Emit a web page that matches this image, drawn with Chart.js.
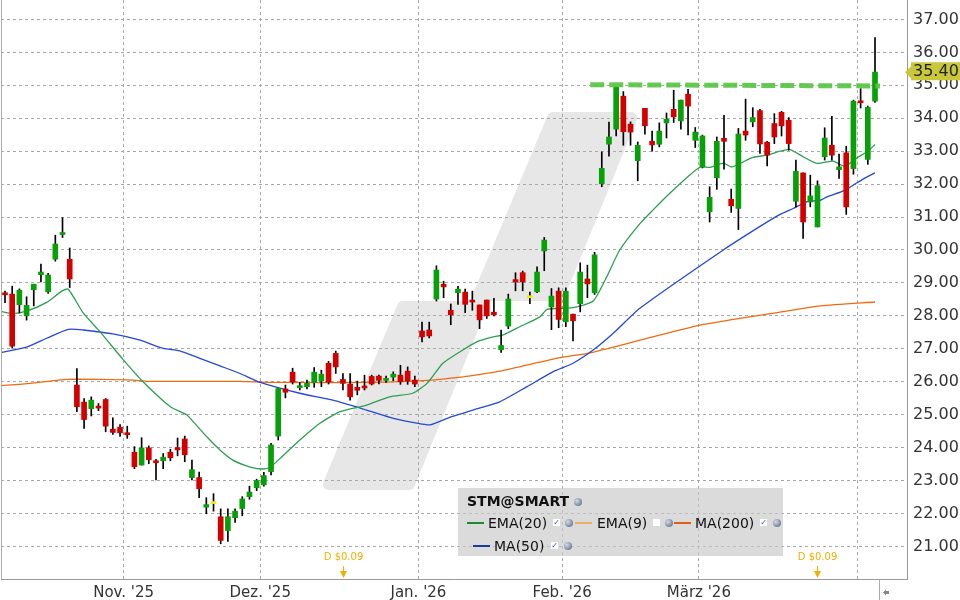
<!DOCTYPE html>
<html>
<head>
<meta charset="utf-8">
<script src="https://cdn.jsdelivr.net/npm/chart.js@4.4.1/dist/chart.umd.min.js"></script>
<style>
body { margin: 0; background: #fff; }
#wrap { position: relative; width: 960px; height: 600px; font-family: "DejaVu Sans", sans-serif; }
#legendBox { position: absolute; left: 458px; top: 488px; width: 325px; height: 68px; background: rgba(200,200,200,0.65); color: #111; font-size: 14px; }
#legendBox span { position: absolute; }
.title { font-weight: bold; left: 9px; top: 5px; line-height: 17px; }
.txt { line-height: 18px; }
.ln { height: 2px; width: 17px; }
.chk { width: 7px; height: 7px; background: #fff; color: #2a5bd0; font-size: 8px; line-height: 7px; text-align: center; font-weight: bold; }
.box { width: 7px; height: 7px; background: #fff; }
.glb { width: 8px; height: 8px; border-radius: 50%; background: radial-gradient(circle at 35% 35%, #d0dce8, #4d6178); }
</style>
</head>
<body>
<div id="wrap">
<canvas id="stmChart" width="960" height="600"></canvas>
<div id="legendBox">
  <span class="title">STM@SMART</span><span class="glb" style="left:116px;top:10px"></span>
  <span class="ln" style="left:9px;top:34px;background:#1a8a2a"></span>
  <span class="txt" style="left:30px;top:26px">EMA(20)</span>
  <span class="chk" style="left:95px;top:31px">✓</span><span class="glb" style="left:107px;top:31px"></span>
  <span class="ln" style="left:117px;top:34px;background:#e8b060"></span>
  <span class="txt" style="left:139px;top:26px">EMA(9)</span>
  <span class="box" style="left:195px;top:31px"></span><span class="glb" style="left:207px;top:31px"></span>
  <span class="ln" style="left:216px;top:34px;background:#e06010"></span>
  <span class="txt" style="left:237px;top:26px">MA(200)</span>
  <span class="chk" style="left:302px;top:31px">✓</span><span class="glb" style="left:315px;top:31px"></span>
  <span class="ln" style="left:15px;top:57px;background:#1a3aa0"></span>
  <span class="txt" style="left:36px;top:49px">MA(50)</span>
  <span class="chk" style="left:93px;top:54px">✓</span><span class="glb" style="left:106px;top:54px"></span>
</div>
</div>
<script>
// daily candles, index 0 = first visible trading day
var opens = [28.68,28.66,28.34,28.0,28.79,29.25,28.73,29.72,30.47,29.72,
25.9,25.38,25.18,25.26,25.46,24.56,24.62,24.45,23.86,23.47,
23.99,23.59,23.6,23.86,24.0,24.26,23.09,23.09,22.19,22.3,
21.9,21.48,21.87,22.15,22.51,22.78,22.87,23.27,24.35,25.78,
26.29,25.82,25.85,25.97,26.02,26.56,26.86,26.07,25.93,25.83,
25.87,26.16,26.17,26.04,26.14,26.2,26.32,26.05,27.54,27.57,
28.51,28.96,28.17,28.7,28.72,28.48,28.33,28.48,28.11,26.97,
27.69,29.1,29.31,28.55,28.73,29.97,28.27,28.75,27.82,28.05,
28.37,29.12,28.7,32.01,33.21,33.67,34.67,33.82,32.71,34.3,
33.3,33.21,33.86,34.27,33.92,34.73,33.33,32.52,31.16,32.19,
33.39,31.54,31.26,33.61,33.89,34.23,33.27,33.84,34.18,33.94,
31.48,32.34,31.46,30.70,32.83,33.18,32.44,32.95,32.47,34.52,
32.75,34.52];
var highs = [28.75,28.90,28.82,28.58,28.96,29.57,29.29,30.45,30.98,30.06,
26.40,25.49,25.54,25.34,25.49,24.9,24.7,24.65,24.03,24.3,
24.05,23.64,23.82,23.95,24.29,24.35,23.62,23.26,22.48,22.6,
22.14,22.14,22.14,22.51,22.83,23.04,23.25,24.13,25.79,25.9,
26.41,25.98,26.05,26.43,26.35,26.62,26.93,26.25,26.25,26.02,
26.2,26.2,26.2,26.17,26.3,26.5,26.45,26.17,27.81,27.81,
29.52,29.05,28.36,28.9,28.81,28.75,28.33,28.48,28.53,27.57,
28.66,29.31,29.36,28.72,29.49,30.38,28.83,28.85,28.85,28.05,
29.61,29.54,29.93,32.98,33.88,34.95,34.81,33.89,33.28,34.3,
33.61,33.86,34.16,34.85,34.55,34.88,33.72,33.49,31.92,33.43,
34.09,31.85,33.69,34.58,34.32,34.27,33.3,34.14,34.21,34.02,
32.73,32.34,32.27,32.1,33.71,34.06,32.91,33.15,34.55,34.9,
34.37,36.45];
var lows = [28.4,27.02,28.09,27.87,28.3,29.03,28.68,29.66,30.38,28.86,
25.09,24.58,24.96,25.12,24.48,24.4,24.34,24.28,23.36,23.47,
23.51,23.02,23.36,23.6,23.75,23.57,23.02,22.48,21.99,22.07,
21.08,21.15,21.73,21.93,22.43,22.69,22.83,23.17,24.23,25.51,
25.93,25.75,25.78,25.83,25.85,25.93,26.25,25.75,25.44,25.6,
25.75,25.9,25.93,25.98,26.03,25.92,25.92,25.85,27.21,27.33,
28.45,28.55,27.73,28.35,28.1,28.17,27.61,27.92,28.0,26.89,
27.61,28.76,28.76,28.37,28.7,29.37,27.58,27.64,27.67,27.24,
28.12,28.55,28.65,31.92,32.85,33.46,33.18,33.18,32.1,33.52,
33.0,33.13,33.4,33.87,33.67,33.49,33.11,32.49,30.85,31.84,
32.45,31.14,30.62,33.33,33.74,32.93,32.55,33.23,33.46,33.03,
31.31,30.35,31.31,30.70,32.73,32.73,32.17,31.08,32.3,34.31,
32.6,34.48];
var closes = [28.64,27.08,28.78,28.32,28.96,29.33,29.24,30.18,30.52,29.12,
25.24,24.85,25.44,25.2,24.65,24.46,24.45,24.39,23.42,23.99,
23.63,23.54,23.71,23.69,23.93,23.78,23.33,22.75,22.27,22.3,
21.18,21.9,22.07,22.44,22.65,23.0,23.15,24.08,25.79,25.68,
26.0,25.88,25.95,26.29,26.23,25.99,26.45,25.95,25.54,25.74,
25.81,25.93,26.04,26.1,26.23,26.0,26.02,25.93,27.36,27.39,
29.39,28.88,28.03,28.81,28.35,28.42,27.88,28.0,28.03,27.1,
28.51,29.03,29.03,28.55,29.33,30.3,28.6,27.89,28.75,27.85,
29.33,28.97,29.85,32.48,33.43,34.95,33.59,33.58,33.18,33.77,
33.19,33.61,33.97,34.04,34.55,34.37,33.58,33.46,31.6,33.3,
33.3,31.34,33.52,33.49,34.02,33.22,32.88,33.43,33.77,33.23,
32.39,30.85,31.64,31.95,33.4,32.88,32.52,31.31,34.52,34.47,
34.33,35.40];

// first candle index of each month and its label
var monthStarts = [17, 36, 58, 78, 97, 119];
var monthLabels = ["Nov. '25", "Dez. '25", "Jan. '26", "Feb. '26", "März '26", ""];
var priceTicks = [21,22,23,24,25,26,27,28,29,30,31,32,33,34,35,36,37];

// studies as [index, value]
var ema20 = [[-0.7,28.14],[1,28.07],[3.1,28.15],[5.8,28.41],[7.9,28.75],[8.8,28.81],[10.9,28.08],[13.2,27.52],
[16.4,26.68],[19.2,26.0],[23,25.24],[25.3,24.99],[26.2,24.78],[28.1,24.32],[29.9,23.93],[31.7,23.62],[34.1,23.41],
[35.9,23.35],[36.9,23.41],[38.3,23.68],[41,24.23],[43.8,24.74],[46.6,25.09],[50.3,25.29],[53.5,25.54],[56.7,25.65],
[58.7,25.95],[60.9,26.56],[63.3,26.91],[65.6,27.21],[67.9,27.36],[69.3,27.42],[71.6,27.67],[74.4,27.97],[75.4,28.2],
[79,28.25],[81.8,28.45],[83.7,29.19],[85.5,30.0],[88.3,30.8],[90.1,31.21],[92.5,31.73],[94.9,32.21],[96.7,32.52],
[98.1,32.51],[99.9,32.64],[101.1,32.52],[104,32.81],[106,32.88],[107.8,33.0],[109.2,33.05],[111,32.83],[112.9,32.63],
[115.2,32.7],[116.8,32.54],[118.5,32.8],[119.9,32.98],[121,33.2]];
var ma50 = [[-0.7,26.88],[3.1,27.06],[5.8,27.32],[8.8,27.59],[10.9,27.57],[15,27.45],[18.8,27.26],[22,27.01],
[24.3,26.94],[27.1,26.71],[29.9,26.48],[32.7,26.25],[35.5,25.98],[41,25.65],[45.6,25.44],[50.3,25.14],[54,24.89],
[57.3,24.74],[59.1,24.69],[61.5,24.89],[65.1,25.14],[68.8,25.39],[72.6,25.85],[76.2,26.3],[79,26.56],[81.8,26.96],
[84.6,27.47],[88.3,28.23],[99.9,30.0],[104.9,30.7],[107.8,31.08],[109.6,31.26],[111.5,31.46],[113.4,31.51],
[114.3,31.61],[116.8,31.81],[118.5,32.04],[119.9,32.22],[121,32.34]];
var ma200 = [[-0.7,25.88],[3.5,25.95],[8.6,26.07],[13.2,26.07],[17.8,26.05],[19.8,26.01],[32.7,26.01],[36.9,25.98],
[50.8,25.98],[58.7,26.04],[64.7,26.18],[68.8,26.32],[77.2,26.73],[81,26.86],[88.3,27.26],[96.7,27.72],
[107.8,28.11],[113.4,28.3],[121,28.42]];
var resistance = [[81.4,35.02],[121.7,34.98]];
var dividends = [[47,"D $0.09"],[113,"D $0.09"]];

function pts(arr) { return arr.map(function(p){ return {x: p[0], y: p[1]}; }); }
function candleColor(i) {
  if (closes[i] > opens[i]) return '#08a008';
  if (closes[i] < opens[i]) return '#d40000';
  return '#f0f000';
}

Chart.defaults.font.family = 'DejaVu Sans';
Chart.defaults.animation = false;

var frame = {
  id: 'frame',
  beforeDraw: function(chart) {
    var ctx = chart.ctx;
    ctx.save();
    ctx.fillStyle = '#fff';
    ctx.fillRect(0, 0, chart.width, chart.height);
    // light logo in the background
    ctx.fillStyle = '#e7e7e7';
    ctx.strokeStyle = '#e7e7e7';
    ctx.lineJoin = 'round';
    ctx.lineWidth = 12;
    [[[553,118],[631,118],[559,295],[479,295]], [[403,307],[481,307],[409,484],[329,484]]].forEach(function(poly){
      ctx.beginPath();
      poly.forEach(function(p, k){ k ? ctx.lineTo(p[0], p[1]) : ctx.moveTo(p[0], p[1]); });
      ctx.closePath();
      ctx.fill();
      ctx.stroke();
    });
    ctx.restore();
  },
  afterDraw: function(chart) {
    var ctx = chart.ctx, a = chart.chartArea;
    var xs = chart.scales.x, ys = chart.scales.y;
    ctx.save();
    ctx.strokeStyle = '#aaa';
    ctx.lineWidth = 1;
    ctx.beginPath();
    ctx.moveTo(1.5, a.top); ctx.lineTo(1.5, a.bottom);
    ctx.moveTo(879.5, a.bottom); ctx.lineTo(879.5, 600);
    ctx.stroke();
    ctx.fillStyle = '#888';
    ctx.beginPath();
    ctx.moveTo(883, 592.5); ctx.lineTo(886, 589.5); ctx.lineTo(886, 595.5); ctx.closePath(); ctx.fill();
    ctx.fillRect(886, 591, 3, 3);

    // dividend markers
    ctx.fillStyle = '#f0b000';
    ctx.strokeStyle = '#f0b000';
    ctx.font = '10px "DejaVu Sans"';
    ctx.textAlign = 'center';
    ctx.textBaseline = 'middle';
    dividends.forEach(function(d){
      var x = Math.round(xs.getPixelForValue(d[0])) + 0.5;
      ctx.fillText(d[1], x, 557);
      ctx.beginPath(); ctx.moveTo(x, 566); ctx.lineTo(x, 575); ctx.stroke();
      ctx.beginPath(); ctx.moveTo(x - 3.5, 571); ctx.lineTo(x + 3.5, 571); ctx.lineTo(x, 578); ctx.closePath(); ctx.fill();
    });

    // last price tag
    var last = closes[closes.length - 1];
    var y = ys.getPixelForValue(last);
    ctx.fillStyle = '#c8c83a';
    ctx.beginPath();
    ctx.moveTo(905, y);
    ctx.lineTo(911, y - 6);
    ctx.lineTo(911, y - 10);
    ctx.lineTo(960, y - 10);
    ctx.lineTo(960, y + 8);
    ctx.lineTo(911, y + 8);
    ctx.lineTo(911, y + 6);
    ctx.closePath();
    ctx.fill();
    ctx.fillStyle = '#222';
    ctx.font = '16px "DejaVu Sans"';
    ctx.textAlign = 'left';
    ctx.fillText(last.toFixed(2), 913, y);
    ctx.restore();
  }
};

new Chart(document.getElementById('stmChart'), {
  type: 'bar',
  data: {
    datasets: [
      {
        type: 'line',
        data: pts(resistance),
        borderColor: 'rgba(84,196,62,0.9)',
        borderWidth: 5,
        borderDash: [14, 5],
        pointRadius: 0,
        order: -1
      },
      {
        data: opens.map(function(o, i){ return {x: i, y: [o, closes[i]]}; }),
        backgroundColor: opens.map(function(o, i){ return candleColor(i); }),
        barThickness: 5,
        minBarLength: 2,
        grouped: false,
        order: 0
      },
      {
        data: lows.map(function(l, i){ return {x: i, y: [l, highs[i]]}; }),
        backgroundColor: '#000',
        barThickness: 1,
        grouped: false,
        order: 1
      },
      {
        type: 'line', label: 'EMA(20)', data: pts(ema20),
        borderColor: '#2ca050', borderWidth: 1.3, pointRadius: 0, tension: 0.2, order: 2
      },
      {
        type: 'line', label: 'MA(50)', data: pts(ma50),
        borderColor: '#2448d8', borderWidth: 1.3, pointRadius: 0, tension: 0.2, order: 2
      },
      {
        type: 'line', label: 'MA(200)', data: pts(ma200),
        borderColor: '#f26a10', borderWidth: 1.3, pointRadius: 0, tension: 0.2, order: 2
      }
    ]
  },
  options: {
    responsive: false,
    devicePixelRatio: 1,
    layout: { padding: { left: 1, top: 0, right: 0, bottom: 0 } },
    plugins: { legend: { display: false }, tooltip: { enabled: false } },
    scales: {
      x: {
        type: 'linear',
        offset: false,
        min: -0.556,
        max: 125.45,
        afterBuildTicks: function(s){ s.ticks = monthStarts.map(function(m){ return {value: m - 0.5}; }); },
        afterFit: function(s){ s.height = 21; s.paddingLeft = 0; s.paddingRight = 0; },
        ticks: {
          autoSkip: false, maxRotation: 0, color: '#333', font: { size: 15 }, padding: 5,
          callback: function(v, i){ return monthLabels[i]; }
        },
        grid: { color: '#a8a8a8', drawTicks: false, offset: false },
        border: { color: '#999', dash: [3, 3] }
      },
      y: {
        type: 'linear',
        position: 'right',
        min: 20.01,
        max: 37.59,
        afterBuildTicks: function(s){ s.ticks = priceTicks.map(function(v){ return {value: v}; }); },
        afterFit: function(s){ s.width = 53; s.paddingTop = 0; s.paddingBottom = 0; },
        ticks: {
          color: '#333', font: { size: 16 }, padding: 6,
          callback: function(v){ return Number(v).toFixed(2); }
        },
        grid: { color: '#a8a8a8', drawTicks: false },
        border: { color: '#999', dash: [3, 3] }
      }
    }
  },
  plugins: [frame]
});
</script>
</body>
</html>
